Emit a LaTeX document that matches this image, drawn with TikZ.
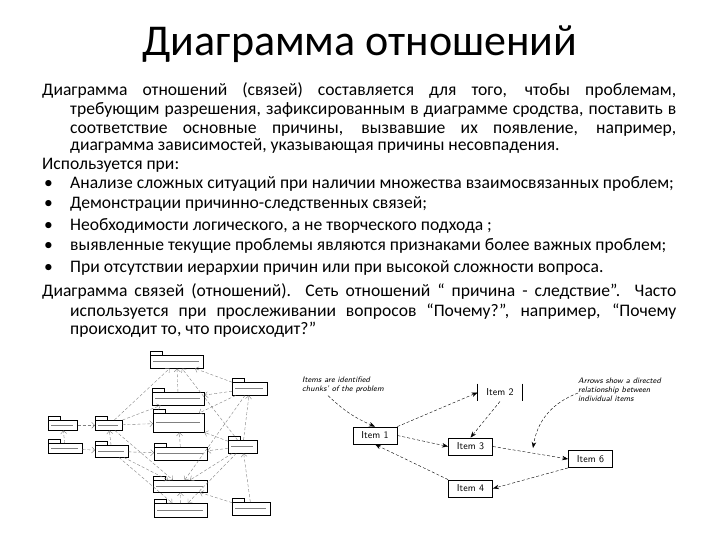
\documentclass[tikz,border=0pt]{standalone}
\usepackage{fontspec}
\setmainfont{Carlito}
\usetikzlibrary{arrows.meta,calc}
\begin{document}
\begin{tikzpicture}[x=1pt,y=-1pt,
  txt/.style={anchor=base west,inner sep=0pt,font=\fontsize{17.6}{19}\selectfont},
  itm/.style={draw,thick,minimum width=44pt,minimum height=17pt,inner sep=0pt,font=\sffamily\fontsize{10}{11}\selectfont},
  ann/.style={font=\sffamily\itshape\fontsize{8}{9}\selectfont,align=left,inner sep=0pt},
  dar/.style={densely dashed,-{Stealth[length=6pt]},thin},
  pkg/.style={draw,fill=white,inner sep=0pt,line width=0.5pt},
  pl/.style={densely dashed,gray,-{Straight Barb[length=3pt]},line width=0.4pt}]
\useasboundingbox[fill=white] (0,0) rectangle (720,540);
\node[anchor=center,font=\fontsize{44}{48}\selectfont] (title) at (360,44) {Диаграмма отношений};
\node[txt] (l1) at (42,96) {\hbox to 634pt{Диаграмма отношений (связей) составляется для того, чтобы проблемам,}};
\node[txt] (l2) at (70,115) {\hbox to 606pt{требующим разрешения, зафиксированным в диаграмме сродства, поставить в}};
\node[txt] (l3) at (70,134) {\hbox to 606pt{соответствие основные причины, вызвавшие их появление, например,}};
\node[txt] (l4) at (70,151) {диаграмма зависимостей, указывающая причины несовпадения.};
\node[txt] (l5) at (42,170) {Используется при:};
\foreach \y/\t [count=\i] in {189/{Анализе сложных ситуаций при наличии множества взаимосвязанных проблем;},
  209/{Демонстрации причинно-следственных связей;},
  230/{Необходимости логического, а не творческого подхода ;},
  251/{выявленные текущие проблемы являются признаками более важных проблем;},
  272/{При отсутствии иерархии причин или при высокой сложности вопроса.}}{
  \node[txt] (b\i) at (44,\y) {•};
  \node[txt] (bt\i) at (70,\y) {\t};
}
\node[txt] (l11) at (42,296) {\hbox to 634pt{Диаграмма связей (отношений). Сеть отношений “ причина - следствие”. Часто}};
\node[txt] (l12) at (70,316) {\hbox to 606pt{используется при прослеживании вопросов “Почему?”, например, “Почему}};
\node[txt] (l13) at (70,334) {происходит то, что происходит?”};

% right diagram
\node[itm] (i1) at (375,435.5) {Item 1};
\node[itm,draw=none] (i2) at (500,392.5) {Item 2};
\draw[thick] (i2.north west) -- (i2.south west) (i2.north east) -- (i2.south east);
\node[itm] (i3) at (470.5,446.5) {Item 3};
\node[itm] (i6) at (590.5,459) {Item 6};
\node[itm] (i4) at (470.5,488.5) {Item 4};
\node[ann,anchor=north west] (a1) at (302,377) {Items are identified\\chunks' of the problem};
\node[ann,anchor=north west] (a2) at (578,378) {Arrows show a directed\\relationship between\\individual items};
\draw[dar] (i1.north east) -- (i2.west);
\draw[dar] (i1.east) -- (i3.west);
\draw[dar] (i2.south) -- (i3.north);
\draw[dar] (i3.east) -- (i6.west);
\draw[dar] (i6.south west) -- (i4.east);
\draw[dar] (i4.north west) -- (i1.south);
\coordinate (p1) at (533,448);
\draw[dar] ($(a1.south)+(-15,2)$) to[bend right=10] (i1.north);
\draw[dar] ($(a2.west)+(0,3)$) to[bend right=30] (p1);

% left package diagram
\foreach \n/\x/\y/\w/\h in {A/150/355/53/13,B/152/392/52/13,C/153/413/51/19,D/154/447/53/13,E/153/480/54/12,F/154/503/53/14,G/48/420/29/10,H/48/443/34/10,I/95/420/27/10,J/95/445/33/12,K/232/382/35/13,L/228/440/29/13,M/232/502/38/13}{
  \draw[pkg] (\x,\y-4) rectangle (\x+12,\y);
  \node[pkg,anchor=north west,minimum width=\w pt,minimum height=\h pt] (\n) at (\x,\y) {};
  \draw[gray,line width=0.4pt] (\x+3,\y+\h/2) -- (\x+\w-4,\y+\h/2);
}
\foreach \a/\b in {G/I,H/J,H/G,J/I,I/A,I/C,I/B,J/D,J/E,J/F,I/E,K/A,K/C,K/B,L/C,L/D,L/A,L/E,L/F,M/E,F/E,D/C,L/K,M/L,K/E,B/A}{
  \draw[pl] (\a) -- (\b);
}
\end{tikzpicture}
\end{document}
